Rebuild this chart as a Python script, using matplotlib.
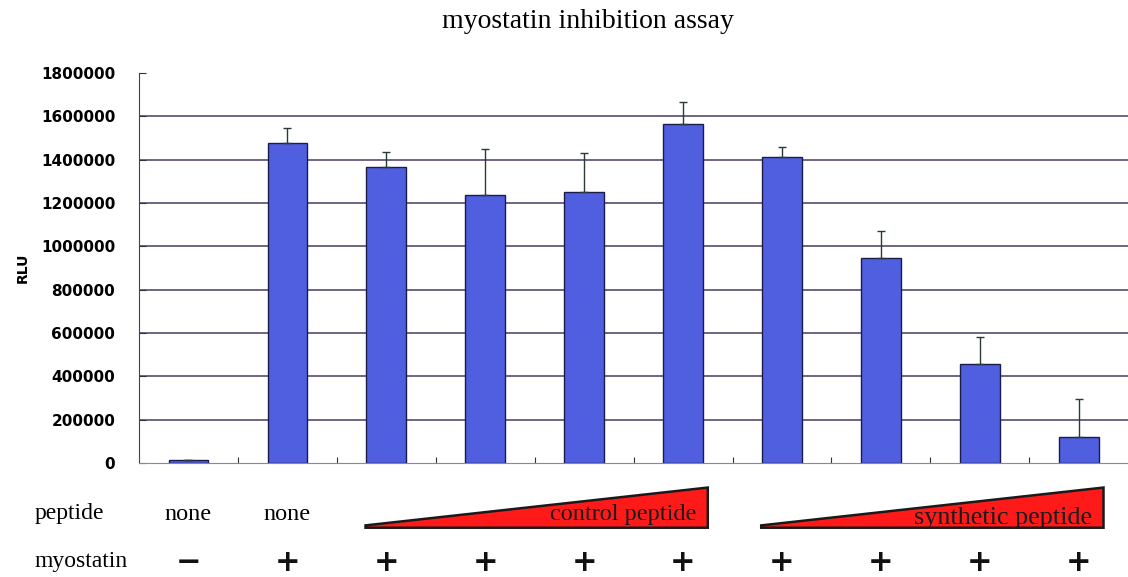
import numpy as np
import matplotlib
matplotlib.use("Agg")
import matplotlib.pyplot as plt
import matplotlib.transforms as mtransforms

# data
rlu = [12000, 1478000, 1367000, 1238000, 1252000, 1564000, 1411000, 948000, 456000, 121000]
rlu_err = [4000, 70000, 68000, 212000, 178000, 104000, 46000, 123000, 124000, 173000]
peptide_labels = ["none", "none"]
myostatin_signs = ["\u2212", "+", "+", "+", "+", "+", "+", "+", "+", "+"]
control_group = [2, 5]
synthetic_group = [6, 9]
y_ticks = [0, 200000, 400000, 600000, 800000, 1000000, 1200000, 1400000, 1600000, 1800000]

serif = "Liberation Serif"

fig = plt.figure(figsize=(11.28, 5.77), dpi=100)
ax = fig.add_axes([0.1232, 0.1976, 0.877, 0.6759])

x = np.arange(len(rlu))
ax.bar(x, rlu, width=0.4, color="#4f5fe0", edgecolor="#1c1c4a", linewidth=1,
       yerr=[np.zeros(len(rlu_err)), rlu_err],
       error_kw=dict(ecolor="#2a3a3a", elinewidth=1, capsize=3, capthick=1), zorder=3)

ax.set_xlim(-0.5, len(rlu) - 0.5)
ax.set_ylim(0, 1800000)
ax.set_yticks(y_ticks)
ax.set_yticklabels([str(v) for v in y_ticks])
for v in y_ticks[1:-1]:
    ax.axhline(v, color="#4a3a66", lw=1.1, zorder=1)

ax.set_xticks(np.arange(0.5, len(rlu) - 1, 1))
ax.set_xticklabels([])
ax.tick_params(axis="x", direction="in", length=4, color="#333333")
ax.tick_params(axis="y", direction="in", length=5, pad=17, color="#333333")
for lab in ax.get_yticklabels():
    lab.set_fontfamily("DejaVu Sans")
    lab.set_fontweight("bold")
    lab.set_fontsize(11)

for s in ["top", "right"]:
    ax.spines[s].set_visible(False)
ax.spines["left"].set_color("#444444")
ax.spines["bottom"].set_color("#8a7fbf")

ax.set_ylabel("RLU", fontsize=10, fontweight="bold")
ax.yaxis.set_label_coords(-0.11, 0.5)

fig.text(0.521, 0.963, "myostatin inhibition assay", ha="center", va="center",
         fontsize=20, family=serif)

# annotation rows below the axis
trans = mtransforms.blended_transform_factory(ax.transData, ax.transAxes)
row_pep = -0.131
row_myo = -0.254
fig.text(0.031, 1 - 514 / 577, "peptide", ha="left", va="center", fontsize=17, family=serif)
fig.text(0.031, 1 - 561 / 577, "myostatin", ha="left", va="center", fontsize=17, family=serif)
for i, lab in enumerate(peptide_labels):
    ax.text(x[i], row_pep, lab, transform=trans, ha="center", va="center",
            fontsize=17.5, family=serif)
for i, sgn in enumerate(myostatin_signs):
    ax.text(x[i], row_myo, sgn, transform=trans, ha="center", va="center",
            fontsize=22, fontweight="bold", family="DejaVu Sans", color="#111111")

for grp, name, fs, ty in [(control_group, "control peptide", 17.5, -0.131),
                          (synthetic_group, "synthetic peptide", 18.8, -0.142)]:
    x0 = grp[0] - 0.21
    x1 = grp[1] + 0.25
    tri = plt.Polygon([[x0, -0.160], [x1, -0.063], [x1, -0.166], [x0, -0.166]],
                      closed=True, transform=trans, clip_on=False,
                      facecolor="#ff1a1a", edgecolor="#1a1a1a", lw=1.8)
    ax.add_patch(tri)
    ax.text(x1 - 0.12, ty, name, transform=trans, ha="right", va="center",
            fontsize=fs, family=serif, color="#1a1a1a")

fig.savefig("out.png", dpi=100)
